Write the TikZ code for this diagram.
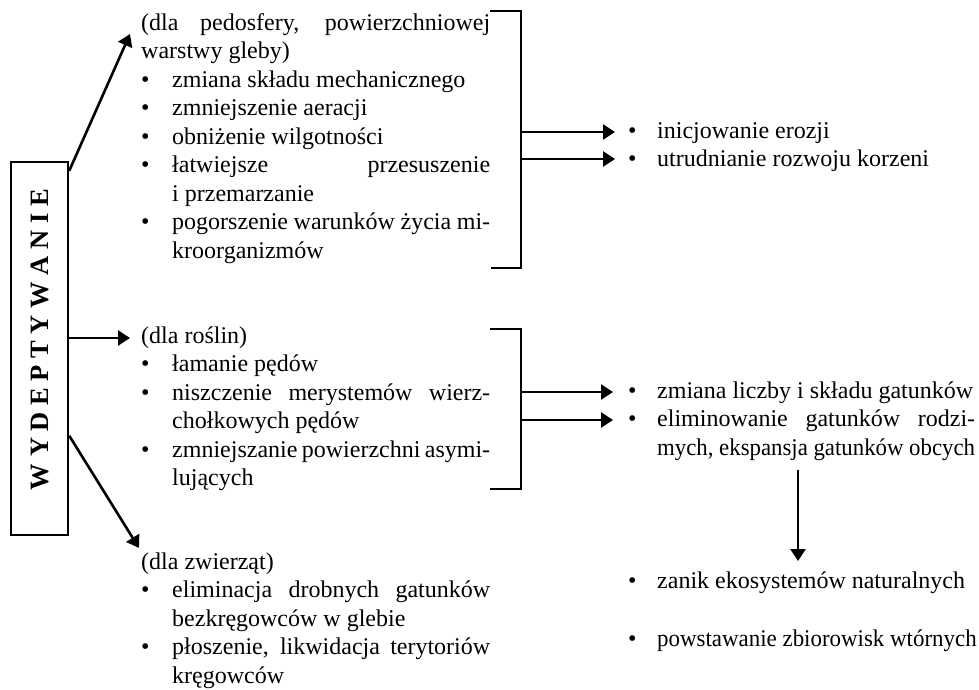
\documentclass[tikz,border=0pt]{standalone}
\usepackage{fontspec}
\setmainfont{Liberation Serif}
\usepackage{graphicx}
\usetikzlibrary{arrows.meta,calc}
\setlength\parindent{0pt}
\hyphenpenalty=10000
\exhyphenpenalty=10000
\tolerance=9999
\newcommand\bulx[1][31pt]{\hangindent=#1\hangafter=1\makebox[#1][l]{\textbullet}}
\newcommand\bul[1][31pt]{\par\noindent\bulx[#1]}
\begin{document}
\begin{tikzpicture}[x=1pt,y=-1pt,
  txt/.style={anchor=north west, inner sep=0pt, align=justify, font={\fontsize{24}{28.5}\selectfont}},
  ln/.style={line width=2.5pt},
  arr/.style={line width=2.6pt, -{Triangle[length=12pt,width=15pt]}}]
\useasboundingbox (0,0) rectangle (979,690);
\fill[white] (0,0) rectangle (979,690);

% main box
\node[draw, line width=2.5pt, minimum width=57pt, minimum height=373pt, inner sep=0pt,
      font={\fontsize{26.5}{30}\selectfont\bfseries}] (wyd) at (39.5,348.5)
  {\rotatebox{90}{\hspace*{18pt}W Y D E P T Y W A N I E}};

% left text blocks
\node[txt, text width=349pt] (b1) at (141,10) {\strut(dla pedosfery, powierzchniowej\linebreak warstwy gleby)
\bul zmiana składu mechanicznego
\bul zmniejszenie aeracji
\bul obniżenie wilgotności
\bul łatwiejsze przesuszenie\linebreak i przemarzanie
\bul pogorszenie warunków życia mi-\linebreak kroorganizmów\par};

\node[txt, text width=349pt] (b2) at (141,323) {\strut(dla roślin)
\bul łamanie pędów
\bul niszczenie merystemów wierz-\linebreak chołkowych pędów
\bul zmniejszanie powierzchni asymi-\linebreak lujących\par};

\node[txt, text width=349pt] (b3) at (141,549) {\strut(dla zwierząt)
\bul eliminacja drobnych gatunków\linebreak bezkręgowców w glebie
\bul płoszenie, likwidacja terytoriów\linebreak kręgowców\par};

% right text blocks
\node[txt, text width=347pt] (r1) at (628,118) {\bulx[29pt]\strut inicjowanie erozji
\bul[29pt]utrudnianie rozwoju korzeni\par};

\node[txt, text width=347pt] (r2) at (628,378) {\bulx[29pt]\strut zmiana liczby i składu gatunków
\bul[29pt]eliminowanie gatunków rodzi-\linebreak \scalebox{0.95}[1]{mych, ekspansja gatunków obcych}\par};

\node[txt, text width=347pt] (r3) at (628,568) {\bulx[29pt]\strut zanik ekosystemów naturalnych\par};
\node[txt, text width=347pt] (r4) at (628,626) {\bulx[29pt]\strut \scalebox{0.955}[1]{powstawanie zbiorowisk wtórnych}\par};

% arrows from the main box
\coordinate (t1) at (130,34);
\coordinate (t2) at (130,338);
\coordinate (t3) at (139,548);
\draw[arr] ($(wyd.north east)+(0,10)$) -- (t1);
\draw[arr] (wyd.east |- t2) -- (t2);
\draw[arr] ($(wyd.north east)+(0,275)$) -- (t3);

% brackets
\draw[ln] (490,11) -- (521,11) -- (521,268) -- (491,268);
\draw[ln] (490,329) -- (521,329) -- (521,489) -- (490,489);

\coordinate (k1a) at (521,132);
\coordinate (k1b) at (521,159);
\coordinate (k2a) at (521,392);
\coordinate (k2b) at (521,420);
\draw[arr] (k1a) -- ($(r1.west |- k1a)+(-13,0)$);
\draw[arr] (k1b) -- ($(r1.west |- k1b)+(-13,0)$);
\draw[arr] (k2a) -- ($(r2.west |- k2a)+(-15,0)$);
\draw[arr] (k2b) -- ($(r2.west |- k2b)+(-15,0)$);

% vertical arrow
\coordinate (v1) at (798,470);
\coordinate (v2) at (798,561);
\draw[arr] (v1) -- (v2);
\end{tikzpicture}
\end{document}
